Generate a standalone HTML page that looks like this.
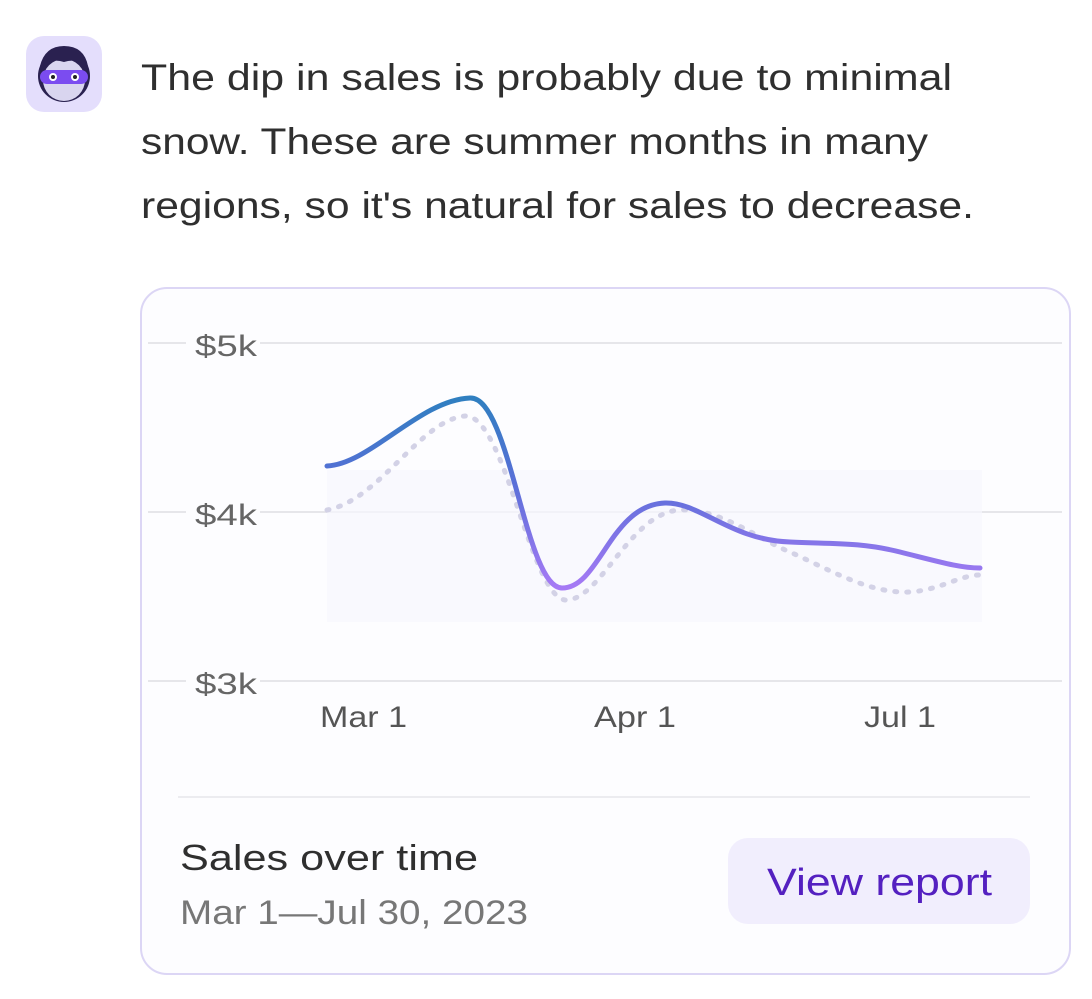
<!DOCTYPE html>
<html><head><style>
body{margin:0;background:#fff;width:1092px;height:994px;overflow:hidden;font-family:"Liberation Sans",sans-serif;}
</style></head><body>
<svg width="1092" height="994" viewBox="0 0 1092 994" xmlns="http://www.w3.org/2000/svg" font-family="Liberation Sans, sans-serif">
<defs>
<linearGradient id="g" x1="0" y1="0" x2="0" y2="1" gradientUnits="objectBoundingBox">
<stop offset="0" stop-color="#2f7fc0"/><stop offset="0.45" stop-color="#5a6fd8"/><stop offset="1" stop-color="#a67af5"/>
</linearGradient>
</defs>
<rect x="26" y="36" width="76" height="76" rx="18" fill="#e4defc"/>
<circle cx="64" cy="76" r="26" fill="#2a2150"/>
<circle cx="64" cy="80" r="21" fill="#d9d5ef"/>
<path d="M40 66 Q45 46 64 46 Q84 46 88 66 Q76 58 64 62 Q52 58 40 66Z" fill="#2a2150"/>
<rect x="40" y="70" width="48" height="14" rx="7" fill="#7b4cf0"/>
<circle cx="53" cy="77" r="4" fill="#fff"/><circle cx="75" cy="77" r="4" fill="#fff"/>
<circle cx="53" cy="77" r="2" fill="#222"/><circle cx="75" cy="77" r="2" fill="#222"/>
<g font-size="37" fill="#2f2f2f" lengthAdjust="spacingAndGlyphs">
<text x="141" y="90" textLength="811" lengthAdjust="spacingAndGlyphs">The dip in sales is probably due to minimal</text>
<text x="141" y="154" textLength="787" lengthAdjust="spacingAndGlyphs">snow. These are summer months in many</text>
<text x="141" y="218" textLength="833" lengthAdjust="spacingAndGlyphs">regions, so it's natural for sales to decrease.</text>
</g>
<rect x="141" y="288" width="929" height="686" rx="26" fill="#fdfdff" stroke="#dcd6f5" stroke-width="2"/>
<g stroke="#e6e6ea" stroke-width="2">
<line x1="148" y1="343" x2="1062" y2="343"/>
<line x1="148" y1="512" x2="1062" y2="512"/>
<line x1="148" y1="681" x2="1062" y2="681"/>
</g>
<g font-size="30" fill="#666">
<rect x="186" y="325" width="74" height="36" fill="#fdfdff"/>
<rect x="186" y="494" width="74" height="36" fill="#fdfdff"/>
<rect x="186" y="663" width="74" height="36" fill="#fdfdff"/>
<text x="195" y="356" textLength="62" lengthAdjust="spacingAndGlyphs">$5k</text>
<text x="195" y="525" textLength="62" lengthAdjust="spacingAndGlyphs">$4k</text>
<text x="195" y="694" textLength="62" lengthAdjust="spacingAndGlyphs">$3k</text>
</g>
<rect x="327" y="470" width="655" height="152" fill="#f7f6fd" opacity="0.7"/>
<path d="M327 510 C380 500 420 420 465 416 C505 414 530 595 565 600 C600 602 630 512 680 510 C720 508 760 540 790 552 C830 570 870 594 910 592 C940 590 960 575 980 575" fill="none" stroke="#d3d2e6" stroke-width="5" stroke-dasharray="2 10" stroke-linecap="round"/>
<path d="M327 466 C370 464 420 400 470 398 C510 396 525 588 562 588 C600 588 610 505 665 503 C700 502 730 540 790 542 C830 544 860 542 900 552 C940 562 960 568 980 568" fill="none" stroke="url(#g)" stroke-width="5" stroke-linecap="round"/>
<g font-size="30" fill="#555">
<text x="320" y="727" textLength="87" lengthAdjust="spacingAndGlyphs">Mar 1</text>
<text x="594" y="727" textLength="82" lengthAdjust="spacingAndGlyphs">Apr 1</text>
<text x="864" y="727" textLength="72" lengthAdjust="spacingAndGlyphs">Jul 1</text>
</g>
<line x1="178" y1="797" x2="1030" y2="797" stroke="#ececf0" stroke-width="2"/>
<text x="180" y="870" font-size="36" fill="#2f2f2f" textLength="298" lengthAdjust="spacingAndGlyphs">Sales over time</text>
<text x="180" y="924" font-size="34" fill="#777" textLength="348" lengthAdjust="spacingAndGlyphs">Mar 1—Jul 30, 2023</text>
<rect x="728" y="838" width="302" height="86" rx="20" fill="#f1eefd"/>
<text x="767" y="895" font-size="38" fill="#5420c0" textLength="225" lengthAdjust="spacingAndGlyphs">View report</text>
</svg>
</body></html>
